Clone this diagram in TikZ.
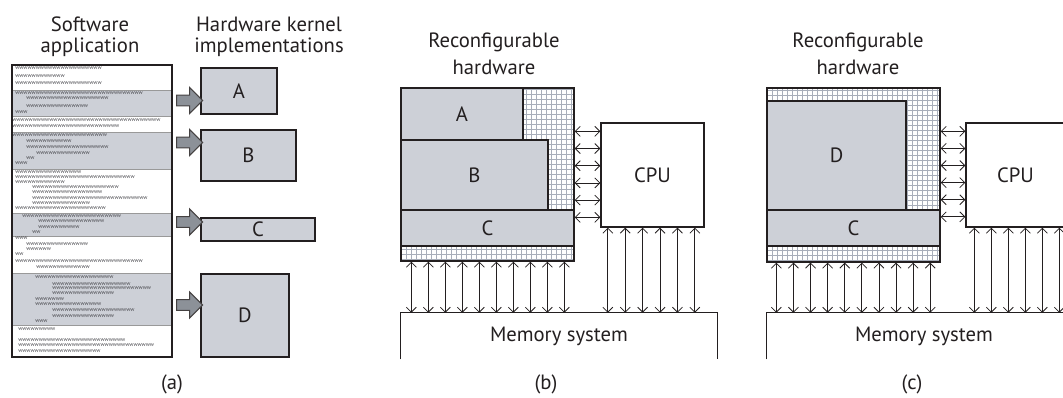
\documentclass[tikz,border=0pt]{standalone}
\usepackage{fontspec}
\setmainfont{PT Sans}
\usepackage{xcolor}
\usepackage{tikz}
\usetikzlibrary{arrows.meta, positioning}
\usetikzlibrary{fit, shapes.arrows}
\usetikzlibrary{calc}

\definecolor{ink}{RGB}{35,31,32}
\definecolor{blockgray}{RGB}{205,208,215}
\definecolor{arrowgray}{RGB}{140,145,152}
\definecolor{gridgray}{RGB}{168,174,186}
\definecolor{codegray}{RGB}{70,70,75}

\newcommand{\wrow}[1]{\foreach \k in {1,...,#1}{w}}

\tikzset{
  every label/.style={font=\fontsize{15.5}{17}\selectfont, text=ink, inner sep=0pt},
  box/.style={draw=ink, line width=1pt, inner sep=0pt},
  kbox/.style={box, fill=blockgray},
  band/.style={draw=gray!80, line width=0.5pt, fill=blockgray, inner sep=0pt},
  fabric/.style={box, fill=white, path picture={
      \draw[gridgray, line width=0.4pt, step=3.75pt]
        (path picture bounding box.south west) grid (path picture bounding box.north east);}},
  fatarrow/.style={single arrow, draw=ink!85, fill=arrowgray, line width=0.8pt,
      minimum height=19.5pt, inner xsep=0pt, inner ysep=3.6pt, single arrow head extend=5.8pt,
      single arrow head indent=0pt},
  dbl/.style={{Straight Barb[length=3.75pt,width=7.5pt]}-{Straight Barb[length=3.75pt,width=7.5pt]},
      draw=ink, line width=0.6pt},
  code/.style={font=\fontsize{4.2}{4}\selectfont, text=codegray, anchor=base west, inner sep=0pt},
  lbl/.style={font=\fontsize{15.5}{16}\selectfont, text=ink, align=center, inner sep=0pt},
  lblb/.style={lbl, font=\fontsize{15.5}{20.5}\selectfont},
  sub/.style={font=\fontsize{15.5}{17}\selectfont, text=ink, inner sep=0pt}
}

\begin{document}
\begin{tikzpicture}[x=0.75pt, y=-0.75pt]
\useasboundingbox (0,0) rectangle (1063,398);

% (a) software application and kernels
\node[lbl] (swt) at (90,37) {Software\\application};
\node[lbl] (hwt) at (269,37) {Hardware kernel\\implementations};

\node[band, fit={(12,90) (172,116)}] (banda) {};
\node[band, fit={(12,132) (172,169)}] (bandb) {};
\node[band, fit={(12,213) (172,236)}] (bandc) {};
\node[band, fit={(12,273) (172,325)}] (bandd) {};

\foreach \x/\y/\n [count=\i] in {
  15/70/21, 15/78/12, 15/85/21,
  15/95/31, 26/100/20, 26/108/15, 15/114/3,
  12/122/36, 12/128/26,
  12/137/23, 26/143/11, 26/149/20, 36/155/13, 26/160/2, 15/165/3,
  15/174/16, 15/179/29, 15/184/12, 32/189/21, 32/194/17, 32/200/28, 32/205/14, 15/210/22,
  22/218/24, 38/223/16, 38/229/10, 32/234/2,
  15/240/3, 26/246/15, 26/251/6, 15/256/2, 15/263/31, 36/269/13,
  35/279/19, 52/286/19, 52/290/24, 52/295/15, 35/301/7, 35/306/16, 52/312/20, 52/318/15, 35/323/3,
  18/331/9, 18/342/26, 18/347/33, 18/353/20}
  \node[code] (row\i) at (\x,\y) {\wrow{\n}};

\node[box, fit={(12,65) (172,357)}] (app) {};

\node[kbox, fit={(201,68) (277,114)}, label=center:A] (ka) {};
\node[kbox, fit={(201,130) (296,181)}, label=center:B] (kb) {};
\node[kbox, fit={(201,218) (315,241)}, label=center:C] (kc) {};
\node[kbox, fit={(201,274) (289,357)}, label=center:D] (kd) {};

\node[fatarrow] (pa) at (187,100.5) {};
\node[fatarrow] (pb) at (187,142.5) {};
\node[fatarrow] (pc) at (187,222) {};
\node[fatarrow] (pd) at (187,305) {};

\node[sub] (capa) at (172,384) {(a)};

% (b) A, B and C loaded
\node[lblb] (rhb) at (494,54) {Reconfigurable\\hardware};
\node[fabric, fit={(401,88) (574,261)}] (fabb) {};
\node[kbox, fit={(401,88) (523,140)}, label=center:A] (ab) {};
\node[kbox, fit={(401,140) (548,210)}, label=center:B] (bb) {};
\node[kbox, fit={(401,210) (574,246)}, label=center:C] (cb) {};
\node[box, fill=white, fit={(601,123) (704,227)}, label=center:CPU] (cpub) {};
\node[inner sep=0pt, fit={(401,313) (717,359)}, label=center:Memory system] (memb) {};
\draw[box] (memb.south west) |- (memb.north east) -- (memb.south east);

\foreach \i in {0,...,5} {
  \coordinate (t) at ($(cpub.north west)+(0,9+17.2*\i)$);
  \draw[dbl] (t -| fabb.east) -- (t);
}
\foreach \i in {0,...,9} {
  \coordinate (t) at ($(fabb.south west)+(11+17*\i,0)$);
  \draw[dbl] (t) -- (t |- memb.north);
}
\foreach \i in {0,...,5} {
  \coordinate (t) at ($(cpub.south west)+(7.5+17.4*\i,0)$);
  \draw[dbl] (t) -- (t |- memb.north);
}

\node[sub] (capb) at (546,384) {(b)};

% (c) D and C loaded
\node[lblb] (rhc) at (858,54) {Reconfigurable\\hardware};
\node[fabric, fit={(767,88) (940,262)}] (fabc) {};
\node[kbox, fit={(767,101) (906,210)}, label=center:D] (dc) {};
\node[kbox, fit={(767,210) (940,246)}, label=center:C] (cc) {};
\node[box, fill=white, fit={(966,123) (1065,227)}, label=center:CPU] (cpuc) {};
\node[inner sep=0pt, fit={(767,313) (1081,359)}, label=center:Memory system] (memc) {};
\draw[box] (memc.south west) |- (memc.north east);

\foreach \i in {0,...,5} {
  \coordinate (t) at ($(cpuc.north west)+(0,9+17.1*\i)$);
  \draw[dbl] (t -| fabc.east) -- (t);
}
\foreach \i in {0,...,9} {
  \coordinate (t) at ($(fabc.south west)+(10+17.1*\i,0)$);
  \draw[dbl] (t) -- (t |- memc.north);
}
\foreach \i in {0,...,5} {
  \coordinate (t) at ($(cpuc.south west)+(9+17*\i,0)$);
  \draw[dbl] (t) -- (t |- memc.north);
}

\node[sub] (capc) at (912,384) {(c)};
\end{tikzpicture}
\end{document}
